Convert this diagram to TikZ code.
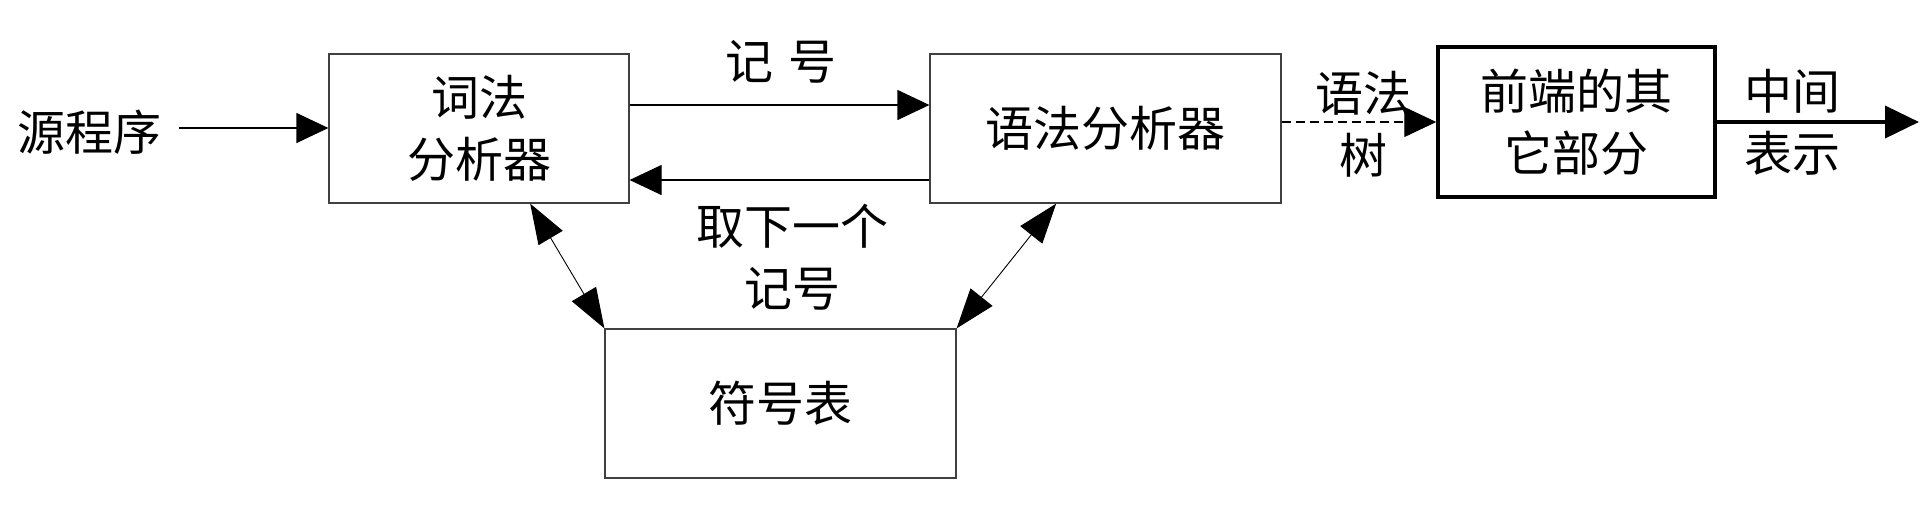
\documentclass[tikz,border=0pt]{standalone}
\usepackage{fontspec}
\newfontfamily\cjk{Noto Sans CJK SC}
\usetikzlibrary{arrows.meta,calc}
\tikzset{
  box/.style={draw=black!75, line width=1.2pt, minimum width=#1, inner sep=0pt},
  lbl/.style={font=\cjk\fontsize{48}{62}\selectfont, align=center, inner sep=0pt},
  arr/.style={-{Triangle[length=32pt,width=30pt]}, line width=1.2pt},
  darr/.style={{Triangle[length=40pt,width=28pt]}-{Triangle[length=40pt,width=28pt]}, line width=0.9pt},
}
\begin{document}
\begin{tikzpicture}[x=1pt,y=-1pt]
\useasboundingbox (0,0) rectangle (1931,507);
\node[box=300pt, minimum height=149pt, lbl] (lex) at (479,128.5) {词法\\分析器};
\node[box=351pt, minimum height=149pt, lbl] (par) at (1105.5,128.5) {语法分析器};
\node[box=351pt, minimum height=149pt, lbl] (sym) at (780.5,403.5) {符号表};
\node[draw=black, line width=3.5pt, minimum width=277pt, minimum height=150pt, lbl] (fe) at (1576.5,122) {前端的其\\它部分};
\node[lbl] (src) at (89,132) {源程序};
\node[lbl] (tok) at (781,62) {记\,\,号};
\node[lbl] (next) at (792,257) {取下一个\\记号};
\node[lbl] (tree) at (1363,124) {语法\\树};
\node[lbl] (ir) at (1792,122) {中间\\表示};
\coordinate (ysrc) at (0,128);
\coordinate (ytop) at (0,105);
\coordinate (ybot) at (0,180);
\coordinate (out) at (1919,122);
\draw[arr] (src.east |- ysrc) ++(18,0) -- (lex.west |- ysrc);
\draw[arr] (lex.east |- ytop) -- (par.west |- ytop);
\draw[arr] (par.west |- ybot) -- (lex.east |- ybot);
\draw[arr, dash pattern=on 9pt off 5pt] (par.east |- fe.west) -- (fe.west);
\draw[-{Triangle[length=34pt,width=32pt]}, line width=4pt] (fe.east) -- (out);
\draw[darr] ($(lex.south west)!0.67!(lex.south east)$) -- (sym.north west);
\draw[darr] ($(par.south west)!0.36!(par.south east)$) -- (sym.north east);
\end{tikzpicture}
\end{document}
